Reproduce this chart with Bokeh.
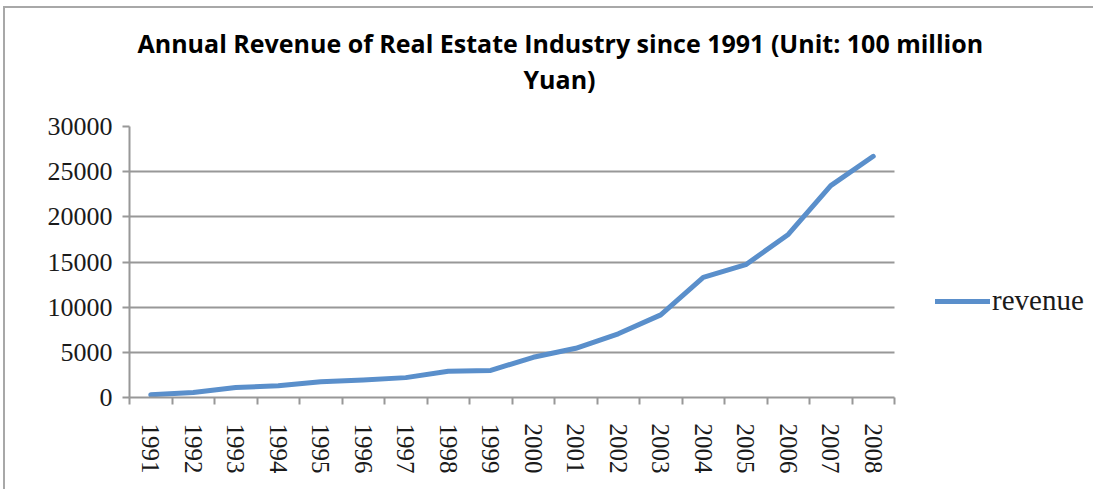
from bokeh.plotting import figure
from bokeh.models import Title, FixedTicker, Legend, LegendItem, ColumnDataSource, Range1d
from bokeh.embed import file_html
from bokeh.resources import INLINE

years = ["1991", "1992", "1993", "1994", "1995", "1996", "1997", "1998", "1999",
         "2000", "2001", "2002", "2003", "2004", "2005", "2006", "2007", "2008"]
revenue = [300, 550, 1100, 1300, 1750, 1950, 2200, 2900, 3000,
           4450, 5450, 7050, 9150, 13300, 14700, 18050, 23450, 26700]
y_ticks = [0, 5000, 10000, 15000, 20000, 25000, 30000]
series_name = "revenue"
title_line1 = "Annual Revenue of Real Estate Industry since 1991 (Unit:  100 million"
title_line2 = "Yuan)"

n = len(years)
xpos = [i + 0.5 for i in range(n)]
src = ColumnDataSource(dict(x=xpos, y=revenue))

LINE = "#5A8FCB"
GRID = "#989898"

W, H = 1090, 483
LEFT, TOP, BOTTOM = 124, 118, 94
x_end = n * (W - LEFT) / 765.0

p = figure(width=W, height=H, output_backend="svg", toolbar_location=None,
           x_range=Range1d(0, x_end), y_range=Range1d(0, 30000),
           min_border_left=LEFT, min_border_right=0, min_border_top=TOP, min_border_bottom=BOTTOM)
p.title = None
p.outline_line_color = None
p.background_fill_color = "white"
p.border_fill_color = "white"
p.styles = {"border-top": "2px solid #a8a8a8", "border-left": "2px solid #a8a8a8",
            "margin-left": "3px", "margin-top": "6px"}

title_style = dict(align="left", text_font="Open Sans", text_font_style="bold",
                   text_font_size="25px", text_color="black", text_line_height=0.75)
spacer = Title(text=" ", text_font_size="1px", standoff=28, align="center")
t2 = Title(text=title_line2, standoff=0, offset=394, **title_style)
t1 = Title(text=title_line1, standoff=0, offset=8, **title_style)
p.add_layout(spacer, "above")
p.add_layout(t2, "above")
p.add_layout(t1, "above")

r = p.line("x", "y", source=src, line_color=LINE, line_width=5, line_join="round", line_cap="round")

# x axis
xa = p.xaxis[0]
xa.bounds = (0, n)
xa.ticker = FixedTicker(ticks=xpos, minor_ticks=list(range(n + 1)))
xa.major_label_overrides = {x: y for x, y in zip(xpos, years)}
xa.major_label_orientation = "vertical"
xa.major_label_text_font = "Liberation Serif"
xa.major_label_text_font_size = "25px"
xa.major_label_text_color = "#1a1a1a"
xa.major_label_standoff = 19
xa.major_tick_out = 0
xa.major_tick_in = 0
xa.minor_tick_out = 7
xa.minor_tick_in = 0
xa.minor_tick_line_color = GRID
xa.minor_tick_line_width = 2
xa.axis_line_color = GRID
xa.axis_line_width = 2

# y axis
ya = p.yaxis[0]
ya.ticker = FixedTicker(ticks=y_ticks)
ya.major_label_text_font = "Liberation Serif"
ya.major_label_text_font_size = "26px"
ya.major_label_text_color = "#1a1a1a"
ya.major_label_standoff = 10
ya.major_tick_out = 7
ya.major_tick_in = 0
ya.minor_tick_line_color = None
ya.major_tick_line_color = GRID
ya.major_tick_line_width = 2
ya.axis_line_color = GRID
ya.axis_line_width = 2

p.xgrid.grid_line_color = None
p.ygrid.ticker = FixedTicker(ticks=y_ticks)
p.ygrid.grid_line_color = GRID
p.ygrid.grid_line_width = 2
p.ygrid.cross_bounds = (0, n)

legend = Legend(items=[LegendItem(label=series_name, renderers=[r])],
                location=(806, 80), glyph_width=55, glyph_height=20,
                label_standoff=2, border_line_color=None, background_fill_alpha=0,
                label_text_font="Liberation Serif", label_text_font_size="29px",
                label_text_color="#1a1a1a", padding=0, margin=0)
p.add_layout(legend, "center")

open("out.html", "w").write(file_html(p, INLINE))
